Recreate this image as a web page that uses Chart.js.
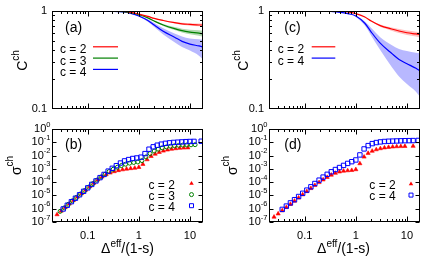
<!DOCTYPE html>
<html>
<head>
<meta charset="utf-8">
<title>C ch and sigma ch</title>
<script src="https://cdn.jsdelivr.net/npm/chart.js@4.4.1/dist/chart.umd.min.js"></script>
<style>
  html, body { margin: 0; padding: 0; background: #fff; }
  #wrap { position: relative; width: 436px; height: 262px; overflow: hidden; }
  #wrap canvas { position: absolute; left: 0; top: 0; width: 436px; height: 262px; }
</style>
</head>
<body>
<div id="wrap">
  <canvas id="chartA" width="436" height="262"></canvas>
  <canvas id="chartB" width="436" height="262"></canvas>
  <canvas id="chartC" width="436" height="262"></canvas>
  <canvas id="chartD" width="436" height="262"></canvas>
</div>
<script>
// ---- tick values / labels ----
const xMajorTicks = [0.1, 1, 10];
const xTickLabels = ['0.1', '1', '10'];
const xMinorTicks = [0.03, 0.04, 0.05, 0.06, 0.07, 0.08, 0.09,
                     0.2, 0.3, 0.4, 0.5, 0.6, 0.7, 0.8, 0.9,
                     2, 3, 4, 5, 6, 7, 8, 9];
const cMajorTicks = [1, 0.1];
const cTickLabels = ['1', '0.1'];
const cMinorTicks = [0.2, 0.3, 0.4, 0.5, 0.6, 0.7, 0.8, 0.9];
const sigmaMajorTicks = [1, 1e-1, 1e-2, 1e-3, 1e-4, 1e-5, 1e-6, 1e-7];
const sigmaExponents = ['0', '-1', '-2', '-3', '-4', '-5', '-6', '-7'];

// ---- series labels ----
const labelsAB = ['c = 2', 'c = 3', 'c = 4'];
const labelsCD = ['c = 2', 'c = 4'];

// ---- top panels: C^ch curves with bands ----
const curveX = [0.02, 0.05, 0.1, 0.2, 0.3, 0.5, 0.7, 1, 1.5, 2, 3, 5, 7, 10, 15, 18];

const aC2   = [1, 1, 1, 1, 0.998, 0.99, 0.97, 0.93, 0.88, 0.84, 0.80, 0.76, 0.74, 0.73, 0.72, 0.72];
const aC2Hi = [1, 1, 1, 1, 0.998, 0.99, 0.97, 0.932, 0.885, 0.848, 0.81, 0.775, 0.76, 0.752, 0.745, 0.745];
const aC2Lo = [1, 1, 1, 1, 0.998, 0.99, 0.97, 0.928, 0.875, 0.832, 0.79, 0.745, 0.722, 0.708, 0.698, 0.695];
const aC3   = [1, 1, 1, 1, 0.997, 0.985, 0.96, 0.915, 0.85, 0.79, 0.72, 0.66, 0.63, 0.61, 0.595, 0.585];
const aC3Hi = [1, 1, 1, 1, 0.997, 0.985, 0.96, 0.918, 0.858, 0.80, 0.735, 0.685, 0.66, 0.645, 0.635, 0.63];
const aC3Lo = [1, 1, 1, 1, 0.997, 0.985, 0.96, 0.912, 0.842, 0.78, 0.705, 0.64, 0.605, 0.58, 0.56, 0.545];
const aC4   = [1, 1, 1, 0.999, 0.995, 0.978, 0.945, 0.89, 0.80, 0.72, 0.62, 0.54, 0.49, 0.46, 0.44, 0.43];
const aC4Hi = [1, 1, 1, 1, 0.996, 0.982, 0.952, 0.90, 0.825, 0.755, 0.665, 0.59, 0.55, 0.525, 0.515, 0.51];
const aC4Lo = [1, 1, 1, 0.998, 0.993, 0.974, 0.938, 0.88, 0.775, 0.685, 0.575, 0.48, 0.43, 0.395, 0.35, 0.32];

const cC2   = [1, 1, 1, 1, 1, 0.995, 0.98, 0.94, 0.87, 0.79, 0.71, 0.655, 0.625, 0.60, 0.583, 0.575];
const cC2Hi = [1, 1, 1, 1, 1, 0.995, 0.98, 0.942, 0.876, 0.80, 0.73, 0.68, 0.655, 0.632, 0.615, 0.605];
const cC2Lo = [1, 1, 1, 1, 1, 0.995, 0.98, 0.938, 0.864, 0.78, 0.69, 0.63, 0.595, 0.57, 0.55, 0.535];
const cC4   = [1, 1, 1, 0.998, 0.99, 0.97, 0.94, 0.89, 0.75, 0.61, 0.47, 0.37, 0.32, 0.29, 0.26, 0.245];
const cC4Hi = [1, 1, 1, 1, 0.995, 0.975, 0.95, 0.90, 0.78, 0.67, 0.54, 0.45, 0.41, 0.39, 0.375, 0.37];
const cC4Lo = [1, 1, 1, 0.996, 0.985, 0.965, 0.93, 0.87, 0.71, 0.56, 0.40, 0.27, 0.215, 0.18, 0.15, 0.133];

// ---- bottom panels: sigma^ch points ----
const bX2 = [0.0251, 0.0302, 0.0363, 0.0437, 0.0525, 0.0631, 0.0759, 0.0912, 0.110, 0.132, 0.158,
             0.191, 0.229, 0.275, 0.331, 0.398, 0.479, 0.575, 0.692, 0.832, 1.00, 1.20, 1.45,
             1.74, 2.09, 2.51, 3.02, 3.63, 4.37, 5.25, 6.31, 7.59, 9.12];
const bS2 = [3.63e-7, 6.76e-7, 1.26e-6, 2.34e-6, 4.27e-6, 7.76e-6, 1.41e-5, 2.57e-5, 4.68e-5, 8.51e-5, 1.51e-4,
             2.51e-4, 3.72e-4, 5.01e-4, 6.31e-4, 7.59e-4, 8.71e-4, 9.77e-4, 1.07e-3, 1.15e-3, 1.32e-3, 2.24e-3, 5.0e-3,
             8.9e-3, 1.32e-2, 1.78e-2, 2.24e-2, 2.69e-2, 3.09e-2, 3.39e-2, 3.63e-2, 3.8e-2, 3.89e-2];
const bX3 = [0.0288, 0.0347, 0.0417, 0.0501, 0.0603, 0.0724, 0.0871, 0.105, 0.126, 0.151, 0.182, 0.219,
             0.263, 0.316, 0.380, 0.457, 0.550, 0.661, 0.794, 0.955, 1.15, 1.38, 1.66, 2.00, 2.40, 2.88,
             3.47, 4.17, 5.01, 6.03, 7.24, 8.71, 10.5, 12.6];
const bS3 = [6.31e-7, 1.15e-6, 2.14e-6, 3.89e-6, 7.08e-6, 1.29e-5, 2.34e-5, 4.27e-5, 7.76e-5, 1.41e-4, 2.45e-4, 3.98e-4,
             6.31e-4, 9.33e-4, 1.32e-3, 1.78e-3, 2.24e-3, 2.69e-3, 3.02e-3, 3.31e-3, 4.17e-3, 7.94e-3, 1.41e-2, 2.19e-2,
             3.02e-2, 3.8e-2, 4.47e-2, 5.01e-2, 5.5e-2, 5.89e-2, 6.17e-2, 6.31e-2, 6.46e-2, 6.61e-2];
const bX4 = [0.0331, 0.0398, 0.0479, 0.0575, 0.0692, 0.0832, 0.100, 0.120, 0.145, 0.174, 0.209, 0.251,
             0.302, 0.363, 0.437, 0.525, 0.631, 0.759, 0.912, 1.10, 1.32, 1.58, 1.91, 2.29, 2.75, 3.31,
             3.98, 4.79, 5.75, 6.92, 8.32, 10.0, 12.0, 16.6];
const bS4 = [9.55e-7, 1.82e-6, 3.39e-6, 6.17e-6, 1.12e-5, 2.04e-5, 3.72e-5, 6.76e-5, 1.23e-4, 2.19e-4, 3.8e-4, 6.76e-4,
             1.1e-3, 1.74e-3, 2.75e-3, 3.98e-3, 5.01e-3, 6.03e-3, 6.61e-3, 7.59e-3, 1.41e-2, 3.02e-2, 4.57e-2, 6.03e-2,
             7.24e-2, 8.32e-2, 9.12e-2, 9.77e-2, 0.102, 0.107, 0.112, 0.115, 0.117, 0.120];

const dX2 = [0.0251, 0.0302, 0.0363, 0.0437, 0.0525, 0.0631, 0.0759, 0.0912, 0.110, 0.132, 0.158,
             0.191, 0.229, 0.275, 0.331, 0.398, 0.479, 0.575, 0.692, 0.832, 1.00, 1.20, 1.45,
             1.74, 2.09, 2.51, 3.02, 3.63, 4.37, 5.25, 6.31, 7.59, 9.12, 13.2];
const dS2 = [2.4e-7, 4.17e-7, 7.24e-7, 1.26e-6, 2.19e-6, 3.8e-6, 6.61e-6, 1.15e-5, 2.0e-5, 3.39e-5, 5.75e-5,
             9.55e-5, 1.51e-4, 2.34e-4, 3.47e-4, 4.79e-4, 6.03e-4, 6.92e-4, 7.41e-4, 7.76e-4, 8.91e-4, 2.51e-3, 7.94e-3,
             1.51e-2, 2.19e-2, 2.82e-2, 3.39e-2, 3.89e-2, 4.27e-2, 4.57e-2, 4.79e-2, 4.9e-2, 5.01e-2, 5.13e-2];
const dX4 = [0.0363, 0.0437, 0.0525, 0.0631, 0.0759, 0.0912, 0.110, 0.132, 0.158, 0.191, 0.229, 0.275,
             0.331, 0.398, 0.479, 0.575, 0.692, 0.832, 1.00, 1.20, 1.45, 1.74, 2.09, 2.51, 3.02, 3.63,
             4.37, 5.25, 6.31, 7.59, 9.12, 11.0, 13.2, 16.6];
const dS4 = [8.91e-7, 1.58e-6, 2.75e-6, 4.79e-6, 8.32e-6, 1.45e-5, 2.51e-5, 4.47e-5, 7.94e-5, 1.41e-4, 2.4e-4, 3.89e-4,
             6.03e-4, 8.91e-4, 1.26e-3, 1.82e-3, 2.57e-3, 3.47e-3, 4.68e-3, 1.12e-2, 3.16e-2, 5.62e-2, 7.94e-2, 9.55e-2,
             0.107, 0.115, 0.120, 0.123, 0.126, 0.129, 0.132, 0.133, 0.135, 0.138];

const RED = '#ff0000', GREEN = '#008000', BLUE = '#0000ff';
const RED_BAND = 'rgba(255,0,0,0.25)', GREEN_BAND = 'rgba(0,128,0,0.3)', BLUE_BAND = 'rgba(0,0,255,0.28)';
const FONT = '"Liberation Sans", Arial, Helvetica, sans-serif';
const xTitleParts = [['\u0394', 14, 0], ['eff', 10, 6.5], ['/(1-s)', 14, 0]];

function pts(xs, ys) {
  return xs.map((x, i) => ({ x: x, y: ys[i] }));
}

// draws a run of text pieces, each with its own size and raise
function richText(ctx, x, y, parts, align) {
  let w = 0;
  const widths = parts.map(p => {
    ctx.font = p[1] + 'px ' + FONT;
    const pw = ctx.measureText(p[0]).width;
    w += pw;
    return pw;
  });
  let cx = align === 'right' ? x - w : (align === 'center' ? x - w / 2 : x);
  ctx.textAlign = 'left';
  parts.forEach((p, i) => {
    ctx.font = p[1] + 'px ' + FONT;
    ctx.fillText(p[0], cx, y - (p[2] || 0));
    cx += widths[i];
  });
}

function drawMark(ctx, kind, x, y, color) {
  ctx.save();
  ctx.strokeStyle = color;
  ctx.fillStyle = color;
  ctx.lineWidth = 1;
  ctx.beginPath();
  if (kind === 'triangle') {
    const r = 2.6;
    ctx.moveTo(x, y - r);
    ctx.lineTo(x + r * 0.866, y + r * 0.5);
    ctx.lineTo(x - r * 0.866, y + r * 0.5);
    ctx.closePath();
    ctx.fill();
  } else if (kind === 'circle') {
    ctx.arc(x, y, 2, 0, Math.PI * 2);
    ctx.stroke();
  } else {
    ctx.rect(x - 2, y - 2, 4, 4);
    ctx.stroke();
  }
  ctx.restore();
}

function decoPlugin(p) {
  return {
    id: 'deco',
    afterDraw(chart) {
      const ctx = chart.ctx, a = chart.chartArea;
      const xs = chart.scales.x, ys = chart.scales.y;
      const L = a.left + 0.5, R = a.right - 0.5, T = a.top + 0.5, B = a.bottom - 0.5;
      ctx.save();
      ctx.strokeStyle = '#000';
      ctx.fillStyle = '#000';
      ctx.lineWidth = 1;

      // inward ticks on all four sides
      ctx.beginPath();
      const xt = (vals, len) => vals.forEach(v => {
        const px = Math.round(xs.getPixelForValue(v)) + 0.5;
        ctx.moveTo(px, B); ctx.lineTo(px, B - len);
        ctx.moveTo(px, T); ctx.lineTo(px, T + len);
      });
      const yt = (vals, len) => vals.forEach(v => {
        const py = Math.round(ys.getPixelForValue(v)) + 0.5;
        ctx.moveTo(L, py); ctx.lineTo(L + len, py);
        ctx.moveTo(R, py); ctx.lineTo(R - len, py);
      });
      xt(xMajorTicks, 5);
      xt(xMinorTicks, 2.5);
      if (p.kind === 'C') yt(cMinorTicks, 2.5);
      else yt(sigmaMajorTicks, 4);
      ctx.stroke();
      ctx.strokeRect(L, T, R - L, B - T);

      // tick labels
      ctx.textBaseline = 'middle';
      ctx.font = '11px ' + FONT;
      if (p.xLabels) {
        ctx.textAlign = 'center';
        xMajorTicks.forEach((v, i) => ctx.fillText(xTickLabels[i], xs.getPixelForValue(v), a.bottom + 14));
      }
      if (p.kind === 'C') {
        ctx.textAlign = 'right';
        cMajorTicks.forEach((v, i) => ctx.fillText(cTickLabels[i], a.left - 5, ys.getPixelForValue(v)));
      } else {
        sigmaMajorTicks.forEach((v, i) =>
          richText(ctx, a.left - 1.5, ys.getPixelForValue(v), [['10', 11, 0], [sigmaExponents[i], 7.5, 4.5]], 'right'));
      }

      // panel tag, axis titles
      ctx.textBaseline = 'alphabetic';
      richText(ctx, p.tag[1], p.tag[2], [[p.tag[0], 14, 0]], 'left');
      ctx.save();
      ctx.translate(p.yTitle.x, p.yTitle.y);
      ctx.rotate(-Math.PI / 2);
      richText(ctx, 0, 0, p.yTitle.parts, 'center');
      ctx.restore();
      if (p.xTitle) richText(ctx, p.xTitle.x, p.xTitle.y, xTitleParts, 'center');

      // key
      p.key.forEach(k => {
        ctx.fillStyle = '#000';
        ctx.font = '12px ' + FONT;
        ctx.textAlign = 'left';
        ctx.fillText(k.label, p.keyX, k.base);
        if (k.mark === 'line') {
          ctx.strokeStyle = k.color;
          ctx.lineWidth = 1.2;
          ctx.beginPath();
          ctx.moveTo(p.keyLine[0], k.base - 6.5);
          ctx.lineTo(p.keyLine[1], k.base - 6.5);
          ctx.stroke();
        } else {
          drawMark(ctx, k.mark, p.keyMarkX, k.base - 5, k.color);
        }
      });
      ctx.restore();
    }
  };
}

function baseOptions(area, yMin, yMax) {
  return {
    responsive: false,
    animation: false,
    devicePixelRatio: 1,
    layout: { padding: { left: area.l, right: 436 - area.r, top: area.t, bottom: 262 - area.b } },
    plugins: { legend: { display: false }, tooltip: { enabled: false } },
    elements: { point: { radius: 0 }, line: { cubicInterpolationMode: 'monotone' } },
    scales: {
      x: { type: 'logarithmic', min: 0.02, max: 18, display: false },
      y: { type: 'logarithmic', min: yMin, max: yMax, display: false }
    }
  };
}

function bandSets(mid, hi, lo, line, band) {
  return [
    { data: pts(curveX, mid), borderColor: line, borderWidth: 1.2, fill: false, order: 0 },
    { data: pts(curveX, hi), borderWidth: 0, borderColor: 'rgba(0,0,0,0)', backgroundColor: band, fill: '+1', order: 1 },
    { data: pts(curveX, lo), borderWidth: 0, borderColor: 'rgba(0,0,0,0)', fill: false, order: 1 }
  ];
}

function markSet(xs, ys, style, color, order) {
  const tri = style === 'triangle';
  return {
    data: pts(xs, ys),
    pointStyle: style,
    pointRadius: tri ? 2.4 : (style === 'rect' ? 3.1 : 2),
    pointBackgroundColor: tri ? color : 'rgba(0,0,0,0)',
    pointBorderColor: color,
    pointBorderWidth: tri ? 0.6 : 1,
    showLine: false,
    order: order
  };
}

const panelA = {
  area: { l: 52, r: 203, t: 11, b: 109 }, kind: 'C', xLabels: false,
  tag: ['(a)', 65, 31.5],
  yTitle: { x: 26.5, y: 60.5, parts: [['C', 14, 0], ['ch', 10, 7.5]] },
  keyX: 60, keyLine: [93, 118],
  key: [
    { label: labelsAB[0], base: 53.3, color: RED, mark: 'line' },
    { label: labelsAB[1], base: 64.6, color: GREEN, mark: 'line' },
    { label: labelsAB[2], base: 75.9, color: BLUE, mark: 'line' }
  ]
};
const panelB = {
  area: { l: 52, r: 203, t: 129, b: 222 }, kind: 'S', xLabels: true,
  tag: ['(b)', 65, 149],
  yTitle: { x: 20.5, y: 165.5, parts: [['\u03c3', 14, 0], ['ch', 10, 7.5]] },
  xTitle: { x: 127.5, y: 253.3 },
  keyX: 148.5, keyMarkX: 191.5,
  key: [
    { label: labelsAB[0], base: 188.5, color: RED, mark: 'triangle' },
    { label: labelsAB[1], base: 199.6, color: GREEN, mark: 'circle' },
    { label: labelsAB[2], base: 210.7, color: BLUE, mark: 'square' }
  ]
};
const panelC = {
  area: { l: 269, r: 420, t: 11, b: 109 }, kind: 'C', xLabels: false,
  tag: ['(c)', 284.3, 31.5],
  yTitle: { x: 247.5, y: 60.5, parts: [['C', 14, 0], ['ch', 10, 7.5]] },
  keyX: 277.7, keyLine: [311.7, 335.3],
  key: [
    { label: labelsCD[0], base: 53.3, color: RED, mark: 'line' },
    { label: labelsCD[1], base: 64.6, color: BLUE, mark: 'line' }
  ]
};
const panelD = {
  area: { l: 269, r: 420, t: 129, b: 222 }, kind: 'S', xLabels: true,
  tag: ['(d)', 284.3, 149],
  yTitle: { x: 236.5, y: 165.5, parts: [['\u03c3', 14, 0], ['ch', 10, 7.5]] },
  xTitle: { x: 343.5, y: 253.3 },
  keyX: 369.3, keyMarkX: 411,
  key: [
    { label: labelsCD[0], base: 189, color: RED, mark: 'triangle' },
    { label: labelsCD[1], base: 200.1, color: BLUE, mark: 'square' }
  ]
};

new Chart(document.getElementById('chartA'), {
  type: 'line',
  data: { datasets: [].concat(
    bandSets(aC2, aC2Hi, aC2Lo, RED, RED_BAND),
    bandSets(aC3, aC3Hi, aC3Lo, GREEN, GREEN_BAND),
    bandSets(aC4, aC4Hi, aC4Lo, BLUE, BLUE_BAND)
  ) },
  options: baseOptions(panelA.area, 0.1, 1),
  plugins: [decoPlugin(panelA)]
});

new Chart(document.getElementById('chartC'), {
  type: 'line',
  data: { datasets: [].concat(
    bandSets(cC2, cC2Hi, cC2Lo, RED, RED_BAND),
    bandSets(cC4, cC4Hi, cC4Lo, BLUE, BLUE_BAND)
  ) },
  options: baseOptions(panelC.area, 0.1, 1),
  plugins: [decoPlugin(panelC)]
});

new Chart(document.getElementById('chartB'), {
  type: 'scatter',
  data: { datasets: [
    markSet(bX2, bS2, 'triangle', RED, 2),
    markSet(bX3, bS3, 'circle', GREEN, 1),
    markSet(bX4, bS4, 'rect', BLUE, 0)
  ] },
  options: baseOptions(panelB.area, 1e-7, 1),
  plugins: [decoPlugin(panelB)]
});

new Chart(document.getElementById('chartD'), {
  type: 'scatter',
  data: { datasets: [
    markSet(dX2, dS2, 'triangle', RED, 1),
    markSet(dX4, dS4, 'rect', BLUE, 0)
  ] },
  options: baseOptions(panelD.area, 1e-7, 1),
  plugins: [decoPlugin(panelD)]
});
</script>
</body>
</html>
